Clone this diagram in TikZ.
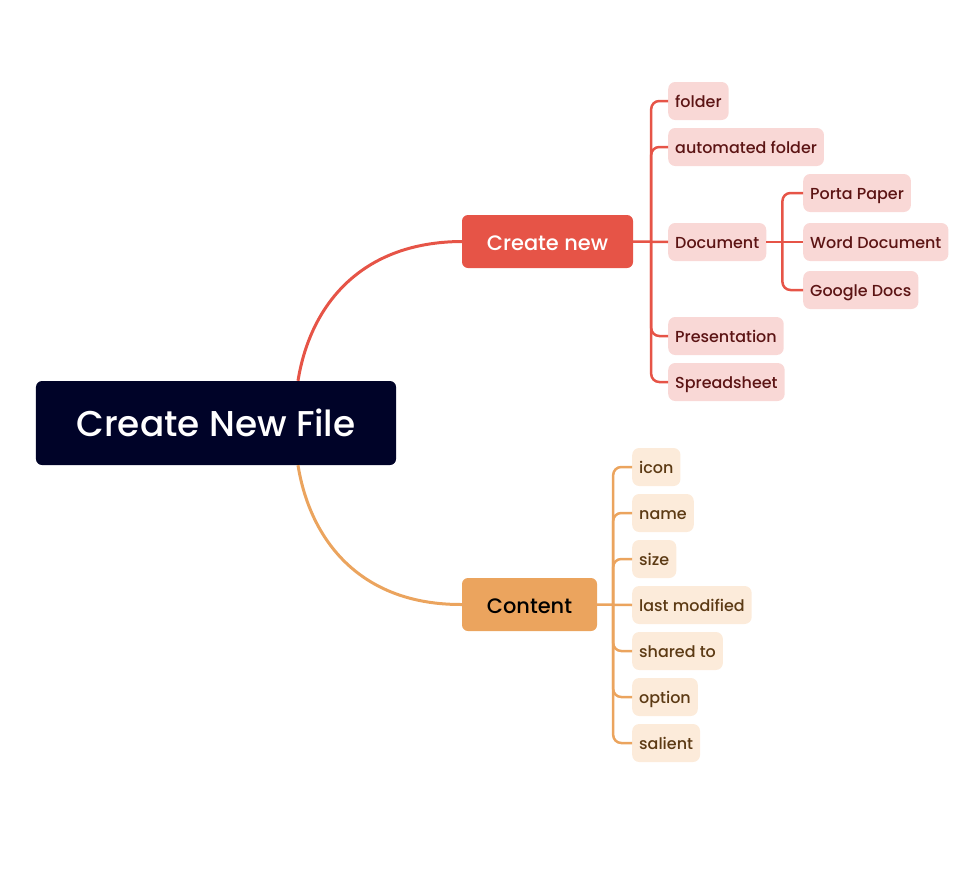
\documentclass[tikz,border=0pt]{standalone}
\usepackage{fontspec}
\setmainfont{Poppins}[UprightFont=* Medium]
\usetikzlibrary{positioning, calc}
\definecolor{croot}{HTML}{000328}
\definecolor{cred}{HTML}{E65447}
\definecolor{corange}{HTML}{EBA45E}
\definecolor{credlt}{HTML}{F9D8D6}
\definecolor{corangelt}{HTML}{FCEBDA}
\definecolor{credtxt}{HTML}{5C1414}
\definecolor{corangetxt}{HTML}{5C3A14}
\tikzset{
  every picture/.style={x=1bp, y=-1bp},
  topic/.style={fill=#1, rounded corners=6bp, minimum height=53bp, inner sep=0pt, text height=17bp, text depth=0pt, font=\fontsize{21}{24}\selectfont},
  leaf/.style={fill=#1, rounded corners=7bp, minimum height=38bp, inner xsep=7bp, inner ysep=0pt, text height=12.6bp, text depth=0pt, anchor=west, font=\fontsize{16}{19}\selectfont},
  branch/.style={draw=#1, line width=3bp},
  twig/.style={draw=#1, line width=2.5bp, rounded corners=8bp},
}
\begin{document}
\begin{tikzpicture}
  \useasboundingbox (0,0) rectangle (978,870);
  % main topic and its two branches
  \node[topic=croot, text=white, minimum width=360bp, minimum height=84bp, text height=27.4bp, font=\fontsize{36}{42}\selectfont] (root) at (216,423) {Create New File};
  \node[topic=cred, text=white, minimum width=171bp] (cn) at (547.5,241.5) {Create new};
  \node[topic=corange, text=black, minimum width=135bp] (ct) at (529.5,604.5) {Content};
  \coordinate (rtop) at ($(root.north)+(82,0)$);
  \coordinate (rbot) at ($(root.south)+(82,0)$);
  \draw[branch=cred] (rtop) .. controls (310,306) and (360,242) .. (cn.west);
  \draw[branch=corange] (rbot) .. controls (310,540) and (360,605) .. (ct.west);
  % create new: leaves
  \node[leaf=credlt, text=credtxt] (folder) at (668,101) {folder};
  \node[leaf=credlt, text=credtxt] (autofolder) at (668,147) {automated folder};
  \node[leaf=credlt, text=credtxt] (doc) at (668,242) {Document};
  \node[leaf=credlt, text=credtxt] (present) at (668,336) {Presentation};
  \node[leaf=credlt, text=credtxt] (sheet) at (668,382) {Spreadsheet};
  \coordinate (cnj) at ($(cn.east)+(18,0)$);
  \draw[twig=cred] (cn.east) -- (doc.west);
  \draw[twig=cred] (cnj) |- (folder.west); \draw[twig=cred] (cnj) |- (autofolder.west);
  \draw[twig=cred] (cnj) |- (present.west); \draw[twig=cred] (cnj) |- (sheet.west);
  % document: leaves
  \node[leaf=credlt, text=credtxt] (porta) at (803,193) {Porta Paper};
  \node[leaf=credlt, text=credtxt] (word) at (803,242) {Word Document};
  \node[leaf=credlt, text=credtxt] (gdocs) at (803,290) {Google Docs};
  \coordinate (docj) at ($(doc.east)+(16,0)$);
  \draw[twig=cred] (doc.east) -- (word.west);
  \draw[twig=cred] (docj) |- (porta.west); \draw[twig=cred] (docj) |- (gdocs.west);
  % content: leaves
  \node[leaf=corangelt, text=corangetxt] (icon) at (632,467) {icon};
  \node[leaf=corangelt, text=corangetxt] (name) at (632,513) {name};
  \node[leaf=corangelt, text=corangetxt] (size) at (632,559) {size};
  \node[leaf=corangelt, text=corangetxt] (lastmod) at (632,605) {last modified};
  \node[leaf=corangelt, text=corangetxt] (shared) at (632,651) {shared to};
  \node[leaf=corangelt, text=corangetxt] (option) at (632,697) {option};
  \node[leaf=corangelt, text=corangetxt] (salient) at (632,743) {salient};
  \coordinate (ctj) at ($(ct.east)+(16,0)$);
  \draw[twig=corange] (ct.east) -- (lastmod.west);
  \draw[twig=corange] (ctj) |- (icon.west); \draw[twig=corange] (ctj) |- (name.west);
  \draw[twig=corange] (ctj) |- (size.west); \draw[twig=corange] (ctj) |- (shared.west);
  \draw[twig=corange] (ctj) |- (option.west); \draw[twig=corange] (ctj) |- (salient.west);
\end{tikzpicture}
\end{document}
